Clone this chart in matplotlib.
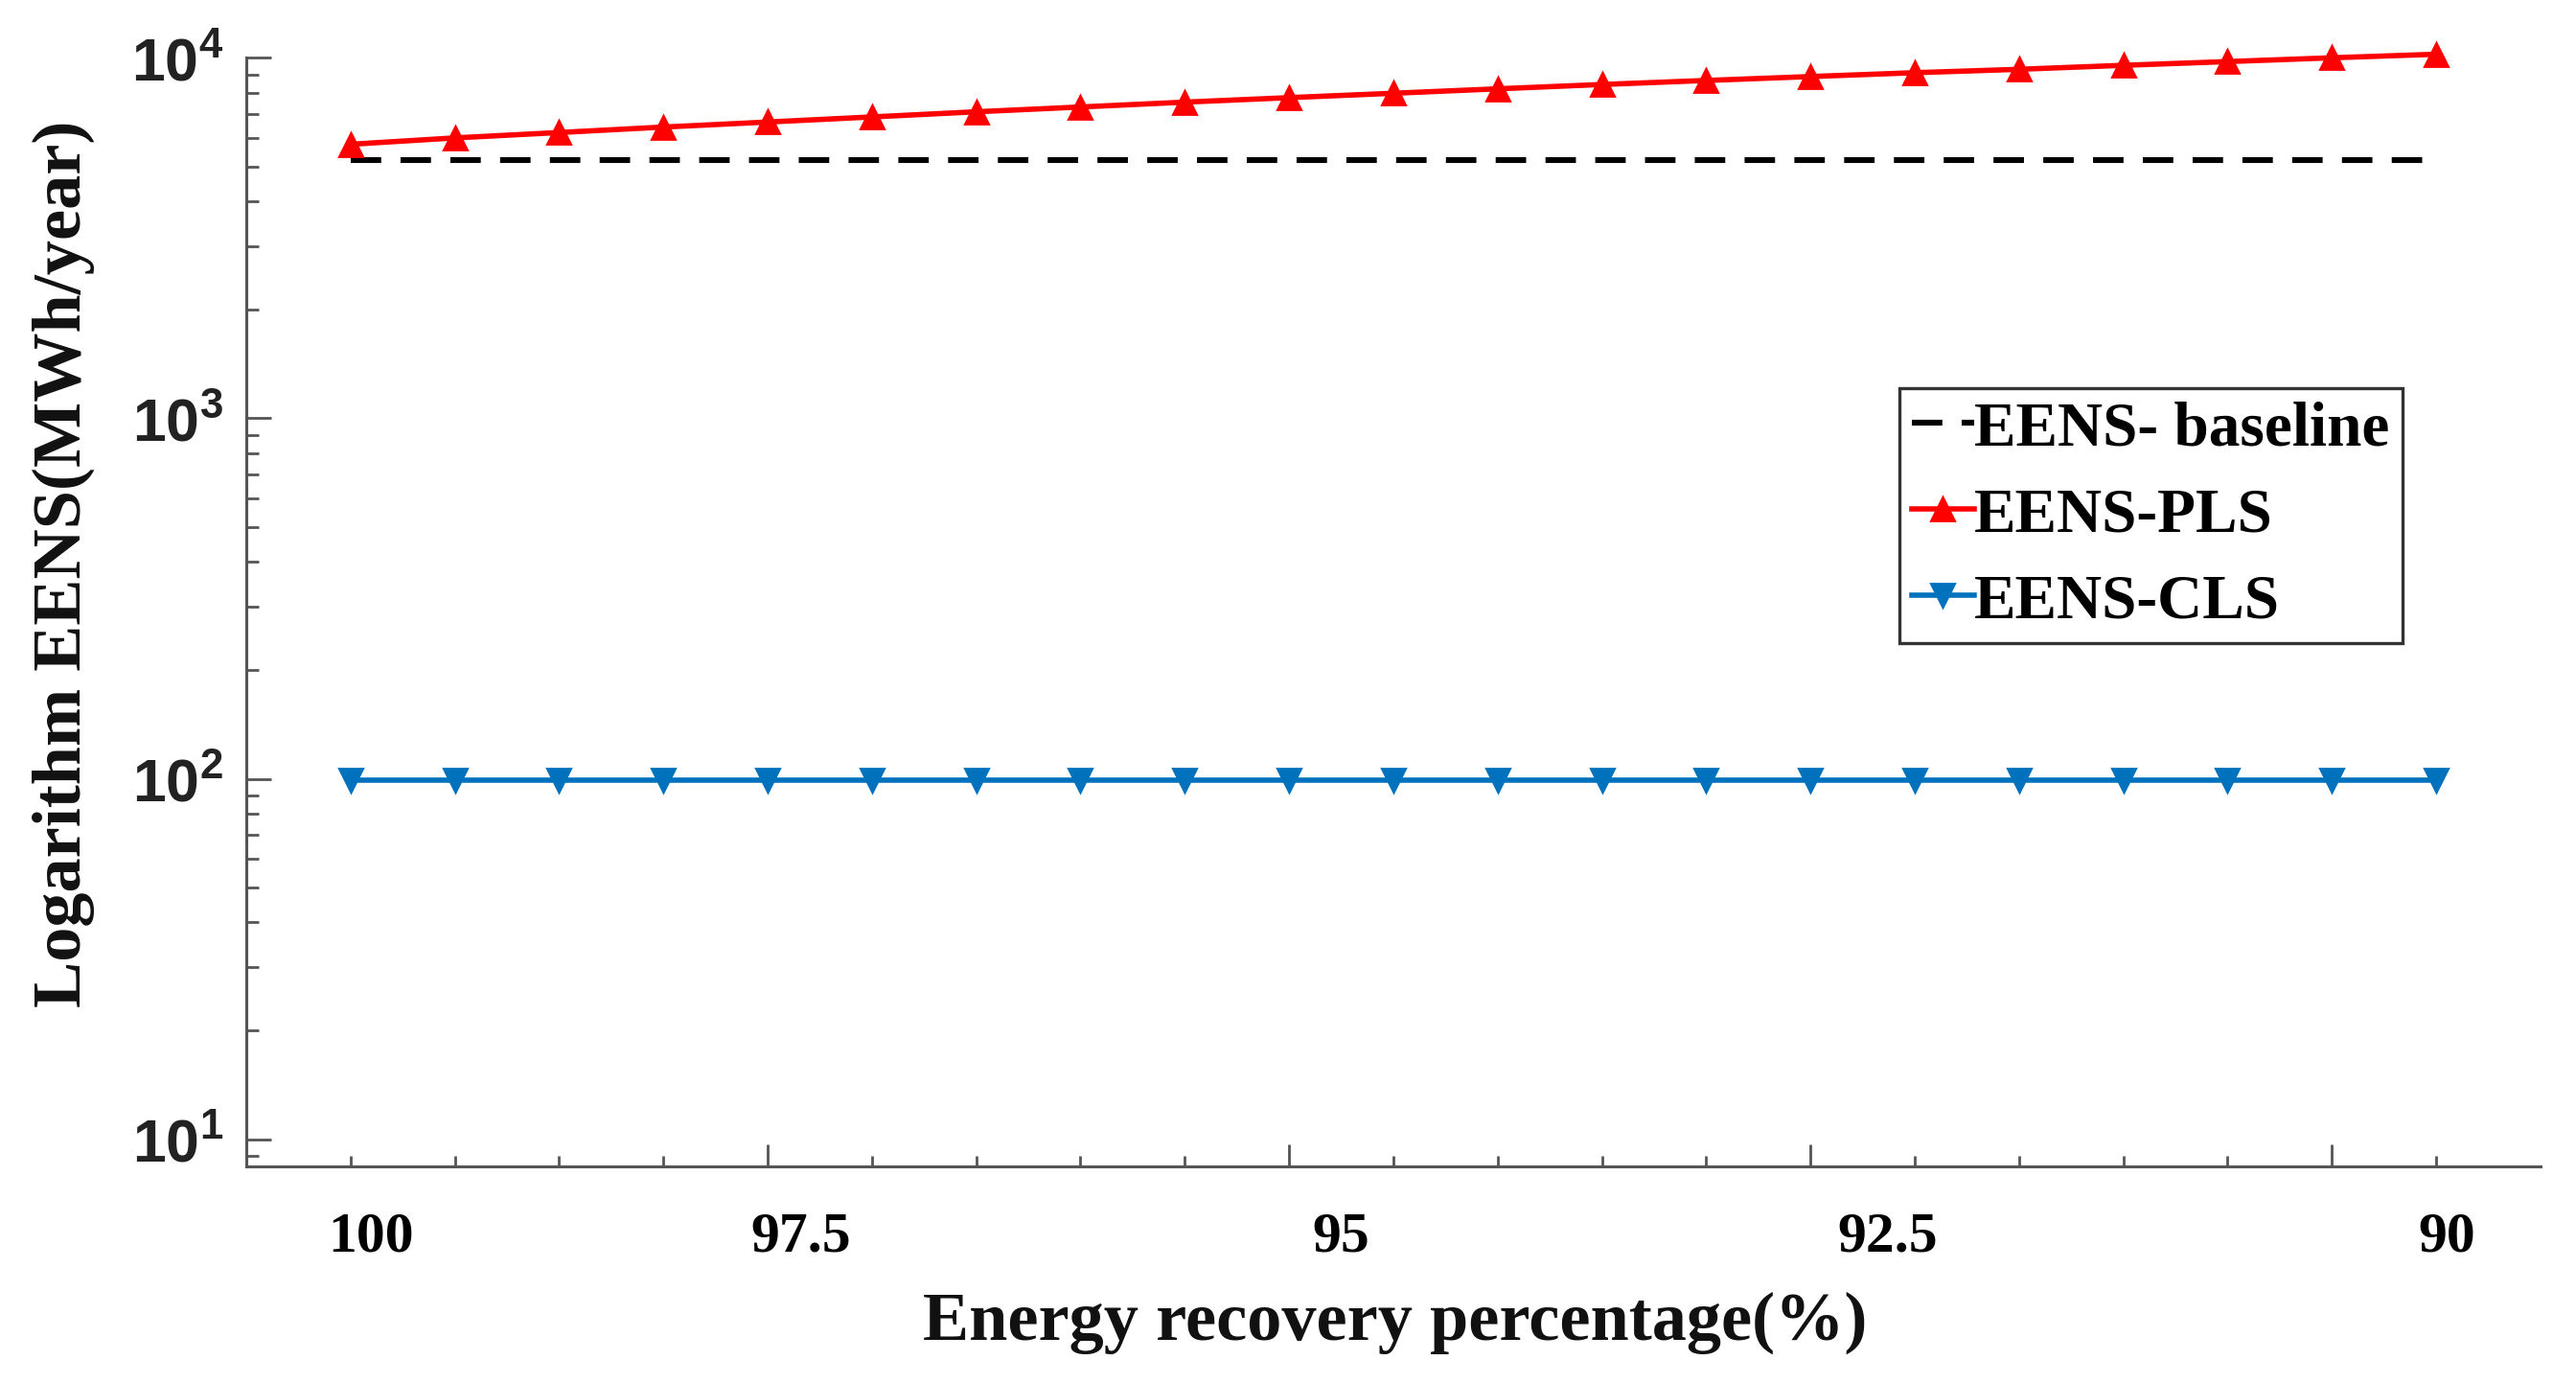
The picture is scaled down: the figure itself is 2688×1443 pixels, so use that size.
"""EENS versus energy recovery percentage, log-scale comparison of PLS / CLS."""

import matplotlib

matplotlib.use("Agg")
import matplotlib.pyplot as plt
import numpy as np
from matplotlib.ticker import FixedLocator, FuncFormatter, NullFormatter

# recovery percentage (x axis runs from 100 down to 90)
recovery_pct = [100.0, 99.5, 99.0, 98.5, 98.0, 97.5, 97.0, 96.5, 96.0, 95.5, 95.0,
                94.5, 94.0, 93.5, 93.0, 92.5, 92.0, 91.5, 91.0, 90.5, 90.0]

# EENS in MWh/year
eens_baseline = 5210
eens_pls = [5760, 6000, 6210, 6430, 6640, 6860, 7090, 7310, 7540, 7760, 7980,
            8210, 8440, 8660, 8880, 9100, 9300, 9540, 9770, 10010, 10240]
eens_cls = [99, 99, 99, 99, 99, 99, 99, 99, 99, 99, 99,
            99, 99, 99, 99, 99, 99, 99, 99, 99, 99]

series_labels = ["EENS- baseline", "EENS-PLS", "EENS-CLS"]

x_tick_labels = ["100", "97.5", "95", "92.5", "90"]
# where the printed labels sit in the original figure (they were placed by hand)
x_label_spots = [99.90, 97.84, 95.25, 92.63, 89.95]
x_major_marks = [98.0, 95.5, 93.0, 90.5]

AXIS_GRAY = "#555555"
SERIF = "Liberation Serif"

plt.rcParams["mathtext.fontset"] = "custom"
plt.rcParams["mathtext.bf"] = "Liberation Sans:bold"
plt.rcParams["mathtext.rm"] = "Liberation Sans"

fig = plt.figure(figsize=(13.44, 7.215), dpi=200)
ax = fig.add_axes([0.0956, 0.1566, 0.8906, 0.8015])

ax.plot(recovery_pct, [eens_baseline] * len(recovery_pct), color="black", lw=2.2,
        ls=(0, (5.2, 3.3)), label=series_labels[0])
ax.plot(recovery_pct, eens_pls, color="#FF0000", lw=2.0, marker="^", ms=8.5,
        label=series_labels[1], clip_on=False)
ax.plot(recovery_pct, eens_cls, color="#0072BD", lw=2.0, marker="v", ms=8.5,
        label=series_labels[2])

ax.set_yscale("log")
ax.set_ylim(8.4, 1e4)
ax.set_xlim(100.5, 89.5)

# axis style (box off, inward ticks)
for side in ("top", "right"):
    ax.spines[side].set_visible(False)
for side in ("left", "bottom"):
    ax.spines[side].set_color(AXIS_GRAY)
    ax.spines[side].set_linewidth(1.1)

ax.xaxis.set_major_locator(FixedLocator(x_major_marks))
ax.xaxis.set_major_formatter(NullFormatter())
ax.xaxis.set_minor_locator(FixedLocator([v for v in recovery_pct if v not in x_major_marks]))
ax.tick_params(axis="x", which="major", direction="in", length=8.3, width=1.0, color=AXIS_GRAY)
ax.tick_params(axis="x", which="minor", direction="in", length=4.0, width=1.0, color=AXIS_GRAY)

ax.yaxis.set_major_formatter(FuncFormatter(
    lambda v, pos: r"$\mathbf{10^{%d}}$" % int(round(np.log10(v)))))
ax.yaxis.set_minor_formatter(NullFormatter())
ax.tick_params(axis="y", which="major", direction="in", length=9.4, width=1.0,
               color=AXIS_GRAY, pad=8.6, labelsize=22.5, labelcolor="#222222")
ax.tick_params(axis="y", which="minor", direction="in", length=4.7, width=1.0, color=AXIS_GRAY)

# the printed percentage labels sit on their own axis below the ticks
sec = ax.secondary_xaxis("bottom")
sec.set_xticks(x_label_spots, x_tick_labels, fontfamily=SERIF, fontweight="bold", fontsize=21.5)
sec.tick_params(length=0, pad=17)
sec.spines["bottom"].set_visible(False)

ax.set_xlabel("Energy recovery percentage(%)", fontfamily=SERIF, fontweight="bold",
              fontsize=26, color="#111111")
ax.xaxis.set_label_coords(0.5008, -0.113)
ax.set_ylabel("Logarithm EENS(MWh/year)", fontfamily=SERIF, fontweight="bold",
              fontsize=26, color="#111111")
ax.yaxis.set_label_coords(-0.066, 0.544)

leg = ax.legend(loc="upper left", bbox_to_anchor=(0.7205, 0.702), borderaxespad=0,
                prop={"family": SERIF, "weight": "bold", "size": 23.5},
                handlelength=1.0, handletextpad=0.0, labelspacing=0.46, borderpad=0.2,
                fancybox=False, framealpha=1, edgecolor="#333333", numpoints=1)
leg.get_frame().set_linewidth(1.2)

fig.savefig("out.png", dpi=200)
plt.close(fig)
